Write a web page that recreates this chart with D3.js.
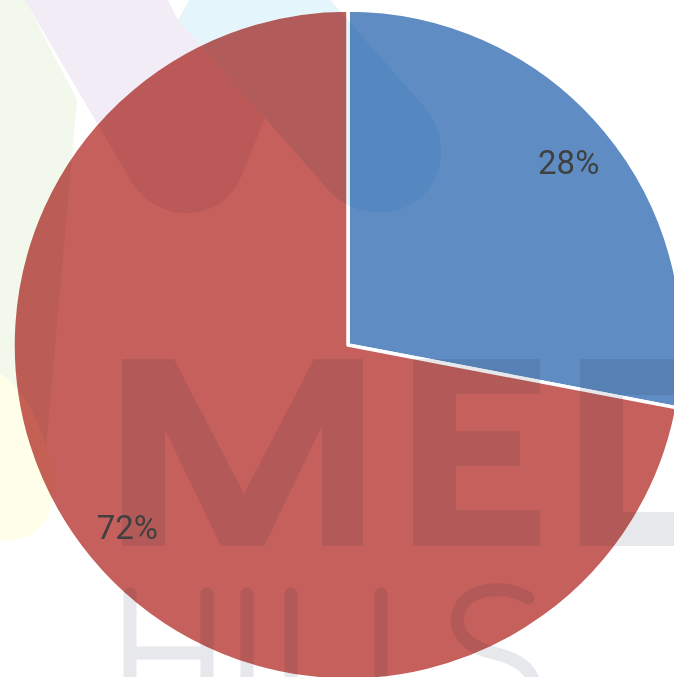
<!DOCTYPE html>
<html lang="en">
<head>
	<meta charset="UTF-8"/>
	<title>Pie chart</title>
	<script src="https://d3js.org/d3.v7.min.js"></script>
	<style>
		body { margin: 0; background: #fff; }
		svg { display: block; }
		.wm { mix-blend-mode: multiply; }
	</style>
</head>
<body>
<script>
	var w = 674;	// Width of the SVG
	var h = 677;	// Height of the SVG

	// chart data
	var categories = ["Segment 1", "Segment 2"];
	var values = [28, 72];
	var labels = ["28%", "72%"];

	var cx = 348, cy = 345;	// pie centre
	var radius = 335;

	var color = d3.scaleOrdinal()
				.domain(categories)
				.range(["#5f8dc3", "#c6605c"]);

	var svg = d3.select("body")
				.append("svg")
				.attr("width", w)
				.attr("height", h);

	var pie = d3.pie()
				.sort(null)
				.value(function(d){ return d; });

	var arc = d3.arc()
				.innerRadius(0)
				.outerRadius(radius);

	// labels sit at about 85% of the radius
	var labelArc = d3.arc()
				.innerRadius(radius * 0.855)
				.outerRadius(radius * 0.855);

	var g = svg.append("g")
			.attr("transform", "translate(" + cx + "," + cy + ")");

	g.selectAll("path")
		.data(pie(values))
		.enter()
		.append("path")
		.attr("d", arc)
		.attr("fill", function(d, i){ return color(categories[i]); })
		.attr("stroke", "#fff")
		.attr("stroke-width", 3.5)
		.attr("stroke-linejoin", "round");

	// faint logo watermark laid over the chart
	var wm = svg.append("g").attr("class", "wm");

	// green leaf
	wm.append("path")
		.attr("d", "M-10,-10 L20,-10 L77,100 L43,483 C30,470 12,420 -10,380 Z")
		.attr("fill", "#f2f8ec");
	// yellow blob
	wm.append("path")
		.attr("d", "M-10,368 C18,378 42,420 52,470 C60,512 40,540 8,540 L-10,540 Z")
		.attr("fill", "#fefee9");
	// lavender stroke
	wm.append("path")
		.attr("d", "M10,-25 L155,-25 L178,20 L265,118 L242,175 C232,200 212,213 185,213 C160,213 140,198 128,176 Z")
		.attr("fill", "#f1ecf5");
	// cyan stroke
	wm.append("path")
		.attr("d", "M178,20 L192,-5 L326,-5 L427,110 C447,135 447,178 418,200 C392,220 352,215 331,193 L265,118 Z")
		.attr("fill", "#e4f5fb");

	// "MED" letters
	var letters = svg.append("g")
			.attr("fill", "#14203c")
			.attr("fill-opacity", 0.1);
	letters.append("path")
		.attr("d", "M122,359 L174,359 L244,494 L314,359 L363,359 L363,546 L322,546 L322,426 L264,546 L221,546 L165,430 L165,546 L122,546 Z");
	letters.append("path")
		.attr("d", "M413,359 L540,359 L540,394 L456,394 L456,431 L520,431 L520,466 L456,466 L456,510 L540,510 L540,546 L413,546 Z");
	letters.append("path")
		.attr("fill-rule", "evenodd")
		.attr("d", "M580,359 L690,359 A93.5,93.5 0 0 1 690,546 L580,546 Z M623,395 L690,395 A58.5,58.5 0 0 1 690,512 L623,512 Z");

	// "HILLS" outline letters
	var hills = svg.append("g")
			.attr("fill", "none")
			.attr("stroke", "#14203c")
			.attr("stroke-opacity", 0.1)
			.attr("stroke-width", 13)
			.attr("stroke-linecap", "round");
	hills.append("path").attr("d", "M130,594 V720 M207,594 V720 M130,653 H207");
	hills.append("path").attr("d", "M247,594 V720");
	hills.append("path").attr("d", "M291,594 V714 H350");
	hills.append("path").attr("d", "M381,594 V714 H440");
	hills.append("path").attr("d", "M528,598 C510,587 475,585 462,605 C450,625 462,645 490,652 C515,658 535,665 538,700");

	// percentage labels
	svg.append("g")
		.attr("transform", "translate(" + cx + "," + cy + ")")
		.selectAll("text")
		.data(pie(values))
		.enter()
		.append("text")
		.attr("transform", function(d){ return "translate(" + labelArc.centroid(d) + ")"; })
		.attr("text-anchor", "middle")
		.attr("dy", "0.35em")
		.attr("font-family", "Roboto, sans-serif")
		.attr("font-size", 33)
		.attr("fill", "#404040")
		.text(function(d, i){ return labels[i]; });
</script>
</body>
</html>
